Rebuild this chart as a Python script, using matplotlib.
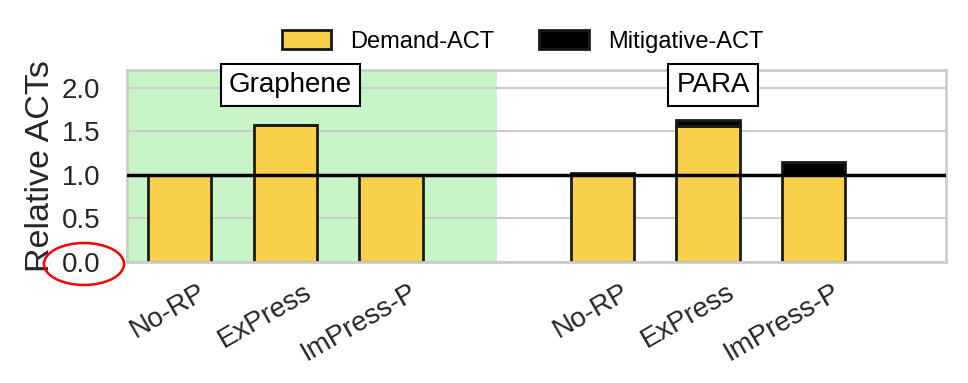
import matplotlib.pyplot as plt
from matplotlib.patches import Ellipse
from matplotlib.transforms import ScaledTranslation

plt.rcParams['font.family'] = ['Liberation Sans', 'DejaVu Sans']

techniques = ["No-RP", "ExPress", "ImPress-P"]
groups = ["Graphene", "PARA"]
positions = [0, 1, 2, 4, 5, 6]
demand = [1.0, 1.57, 1.0, 1.0, 1.56, 1.0]
mitigative = [0.0, 0.0, 0.0, 0.02, 0.07, 0.15]
tick_labels = techniques + techniques
group_label_x = [1.05, 5.05]

fig = plt.figure(figsize=(9.68, 3.83), dpi=100)
ax = fig.add_axes([0.131, 0.316, 0.846, 0.501])

ax.axvspan(-0.5, 3.0, color='#c7f5c8', zorder=0, linewidth=0)
ax.bar(positions, demand, width=0.6, color='#f9d049', edgecolor='#1a1a1a',
       linewidth=2, zorder=2, label='Demand-ACT')
ax.bar(positions, mitigative, bottom=demand, width=0.6, color='black',
       edgecolor='#1a1a1a', linewidth=2, zorder=2, label='Mitigative-ACT')
ax.axhline(1.0, color='black', linewidth=2.5, zorder=3)

ax.set_xlim(-0.5, 7.25)
ax.set_ylim(0, 2.2)
ax.set_yticks([0, 0.5, 1.0, 1.5, 2.0])
ax.set_xticks(positions)
ax.set_xticklabels(tick_labels, rotation=30, ha='right', rotation_mode='anchor')
ax.tick_params(axis='both', labelsize=20, colors='#262626', length=0)
ax.tick_params(axis='y', pad=19)
ax.tick_params(axis='x', pad=12)
shift = ScaledTranslation(0.18, 0, fig.dpi_scale_trans)
for lbl in ax.get_xticklabels():
    lbl.set_transform(lbl.get_transform() + shift)
ax.set_ylabel('Relative ACTs', fontsize=24.5, color='#262626', labelpad=4)

ax.set_axisbelow(True)
ax.grid(axis='y', color='#cccccc', linewidth=1.5, zorder=0.5)
ax.grid(axis='x', visible=False)
for s in ax.spines.values():
    s.set_color('#cccccc')
    s.set_linewidth(2)

for x, name in zip(group_label_x, groups):
    ax.text(x, 2.03, name, fontsize=20, ha='center', va='center', zorder=5,
            bbox=dict(boxstyle='square,pad=0.3', facecolor='white',
                      edgecolor='black', linewidth=1.5), clip_on=False)

ax.legend(loc='lower center', bbox_to_anchor=(0.483, 1.04), ncol=2, frameon=False,
          fontsize=17, handlelength=2.1, handleheight=0.85, columnspacing=1.9,
          borderaxespad=0)

# red ellipse around the 0.0 tick label
ell = Ellipse((84 / 968, 1 - 264 / 383), 80 / 968, 42 / 383, transform=fig.transFigure,
              fill=False, edgecolor='red', linewidth=1.8, clip_on=False)
fig.patches.append(ell)

fig.savefig('out.png', dpi=100)
